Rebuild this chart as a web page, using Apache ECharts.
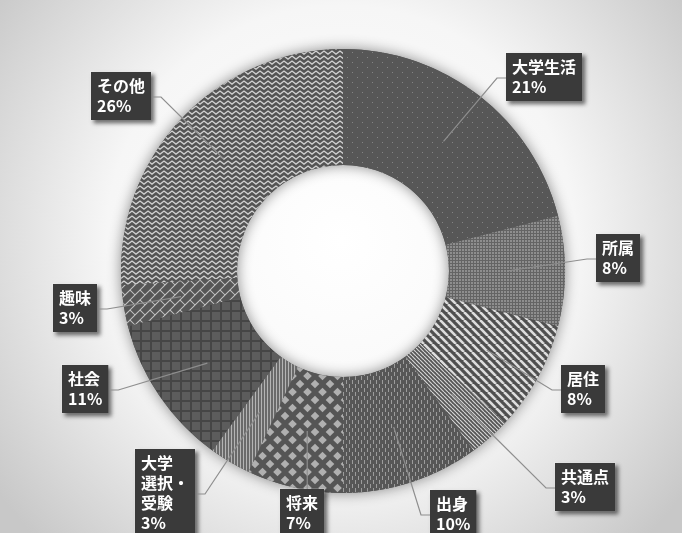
<!DOCTYPE html>
<html>
<head>
<meta charset="utf-8">
<script src="https://cdn.jsdelivr.net/npm/echarts@6/dist/echarts.min.js"></script>
<style>
  html, body { margin: 0; padding: 0; }
  #chart { width: 682px; height: 533px; }
</style>
</head>
<body>
<div id="chart"></div>
<script>
// Categories and their shares (percent), clockwise from 12 o'clock
const categories = ['大学生活', '所属', '居住', '共通点', '出身', '将来', '大学\n選択・\n受験', '社会', '趣味', 'その他'];
const shares = [21, 8, 8, 3, 10, 7, 3, 11, 3, 26];

// Top-left corner of each callout box
const labelBoxes = [[506, 53], [596, 234], [561, 365], [555, 463], [430, 490], [280, 489], [135, 449], [62, 365], [53, 284], [91, 72]];

const CX = 343, CY = 271, R_IN = 106, R_OUT = 222;

// ---- fill patterns ----
function tile(w, h, draw) {
  const c = document.createElement('canvas');
  c.width = w; c.height = h;
  const g = c.getContext('2d');
  draw(g, w, h);
  return { image: c, repeat: 'repeat' };
}
function base(g, w, h, col) { g.fillStyle = col; g.fillRect(0, 0, w, h); }
function diagStripes(size, bg, fg, lw) {
  return tile(size, size, (g, w, h) => {
    base(g, w, h, bg);
    g.strokeStyle = fg; g.lineWidth = lw;
    for (let o = -2 * size; o <= 2 * size; o += size) {
      g.beginPath(); g.moveTo(o, 0); g.lineTo(o + size, size); g.stroke();
    }
  });
}
const patterns = [
  // sparse dots
  tile(10, 10, (g, w, h) => { base(g, w, h, '#575757'); g.fillStyle = '#848484'; g.fillRect(2, 2, 1, 1); g.fillRect(7, 7, 1, 1); }),
  // dense dots
  tile(3, 3, (g, w, h) => { base(g, w, h, '#646464'); g.fillStyle = '#8e8e8e'; g.fillRect(0, 0, 2, 2); }),
  // wide diagonal stripes
  diagStripes(8, '#4f4f4f', '#dddddd', 2.6),
  // narrow diagonal stripes
  diagStripes(4, '#555555', '#d4d4d4', 1.2),
  // short vertical dashes
  tile(6, 8, (g, w, h) => { base(g, w, h, '#575757'); g.fillStyle = '#9c9c9c'; g.fillRect(1, 0, 1, 4); g.fillRect(4, 4, 1, 4); }),
  // diamonds
  tile(15, 16, (g, w, h) => {
    base(g, w, h, '#555555'); g.fillStyle = '#b0b0b0';
    const d = (x, y, s) => { g.beginPath(); g.moveTo(x, y - s); g.lineTo(x + s, y); g.lineTo(x, y + s); g.lineTo(x - s, y); g.closePath(); g.fill(); };
    [[7.5, 8], [0, 0], [15, 0], [0, 16], [15, 16]].forEach(c => d(c[0], c[1], 4.3));
  }),
  // fine vertical stripes
  tile(3, 1, (g, w, h) => { base(g, w, h, '#6a6a6a'); g.fillStyle = '#b4b4b4'; g.fillRect(0, 0, 1, 1); }),
  // grid
  tile(10, 10, (g, w, h) => { base(g, w, h, '#5c5c5c'); g.fillStyle = '#454545'; g.fillRect(0, 0, 10, 2); g.fillRect(0, 0, 2, 10); }),
  // diagonal bricks
  tile(10, 10, (g, w, h) => {
    base(g, w, h, '#565656');
    g.strokeStyle = '#c4c4c4'; g.lineWidth = 1;
    const a = 10 * Math.SQRT2, b = 5 * Math.SQRT2;
    g.rotate(-Math.PI / 4);
    for (let k = -8; k <= 8; k++) {
      g.beginPath(); g.moveTo(-50, k * b); g.lineTo(50, k * b); g.stroke();
      const off = (((k % 2) + 2) % 2) ? a / 2 : 0;
      for (let m = -6; m <= 6; m++) {
        const x = m * a + off;
        g.beginPath(); g.moveTo(x, k * b); g.lineTo(x, (k + 1) * b); g.stroke();
      }
    }
  }),
  // zigzag
  tile(8, 5, (g, w, h) => {
    base(g, w, h, '#555555');
    g.strokeStyle = '#d2d2d2'; g.lineWidth = 1.4;
    g.beginPath(); g.moveTo(-4, 1); g.lineTo(0, 4); g.lineTo(4, 1); g.lineTo(8, 4); g.lineTo(12, 1); g.stroke();
  })
];

// ---- geometry helpers for the callout lines ----
const total = shares.reduce((s, v) => s + v, 0);
const midFracs = [];
let acc = 0;
shares.forEach(v => { midFracs.push((acc + v / 2) / total); acc += v; });
function ringPoint(frac, r) {
  const a = frac * 2 * Math.PI;
  return [CX + r * Math.sin(a), CY - r * Math.cos(a)];
}

const labelSizes = [];

const chart = echarts.init(document.getElementById('chart'), null, { renderer: 'canvas' });

chart.setOption({
  backgroundColor: {
    type: 'radial', x: 0.5, y: 0.45, r: 0.8,
    colorStops: [
      { offset: 0, color: '#ffffff' },
      { offset: 0.55, color: '#f6f6f6' },
      { offset: 1, color: '#c8c8c8' }
    ]
  },
  animation: false,
  series: [
    {
      // soft shadow under the ring
      type: 'pie', silent: true, z: 1,
      center: [CX, CY], radius: [R_IN, R_OUT],
      label: { show: false }, labelLine: { show: false },
      itemStyle: { color: '#555', shadowBlur: 14, shadowColor: 'rgba(0,0,0,0.45)' },
      data: [{ value: 1, name: '' }]
    },
    {
      type: 'pie', z: 2,
      center: [CX, CY], radius: [R_IN, R_OUT],
      startAngle: 90, clockwise: true,
      avoidLabelOverlap: false,
      emphasis: { disabled: true },
      data: categories.map((c, i) => ({ name: c, value: shares[i], itemStyle: { color: patterns[i] } })),
      label: {
        show: true, position: 'outside',
        formatter: '{b}\n{c}%',
        color: '#ffffff', fontSize: 16, fontWeight: 'bold',
        fontFamily: '"Noto Sans CJK JP", "Noto Sans CJK SC", sans-serif',
        lineHeight: 20,
        backgroundColor: '#3a3a3a',
        borderColor: 'rgba(255,255,255,0.22)', borderWidth: 1,
        padding: [4, 6, 4, 6],
        shadowColor: 'rgba(0,0,0,0.55)', shadowBlur: 4, shadowOffsetX: 3, shadowOffsetY: 3
      },
      labelLine: { show: false },
      labelLayout: function (p) {
        const i = p.dataIndex;
        labelSizes[i] = [p.labelRect.width, p.labelRect.height];
        return { x: labelBoxes[i][0], y: labelBoxes[i][1], align: 'left', verticalAlign: 'top' };
      }
    }
  ]
});

// Leader lines: from the middle of each slice to the side of its callout box
const leaders = categories.map((c, i) => {
  const bx = labelBoxes[i][0], by = labelBoxes[i][1];
  const w = labelSizes[i] ? labelSizes[i][0] : 50, h = labelSizes[i] ? labelSizes[i][1] : 48;
  const a = ringPoint(midFracs[i], (R_IN + R_OUT) / 2);
  let end, bend;
  if (a[0] < bx) { end = [bx, by + h / 2]; bend = [bx - 9, by + h / 2]; }
  else if (a[0] > bx + w) { end = [bx + w, by + h / 2]; bend = [bx + w + 8, by + h / 2]; }
  else { end = [a[0], by]; bend = [a[0], by]; }
  return {
    type: 'polyline', silent: true, z: 50,
    shape: { points: [a, bend, end] },
    style: { stroke: '#8e8e8e', lineWidth: 1.2, fill: null }
  };
});
chart.setOption({ graphic: { elements: leaders } });
</script>
</body>
</html>
